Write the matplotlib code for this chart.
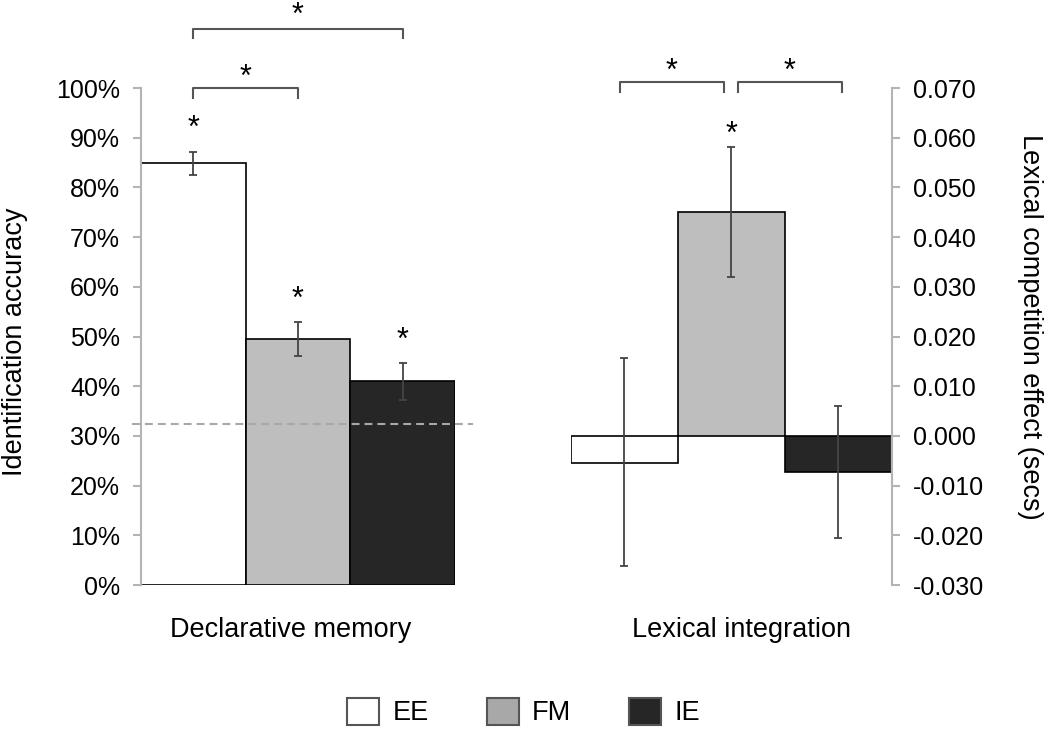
import numpy as np
import matplotlib
matplotlib.use("Agg")
import matplotlib.pyplot as plt
from matplotlib.patches import Patch

plt.rcParams["font.family"] = ["Liberation Sans", "DejaVu Sans"]

groups = ["EE", "FM", "IE"]
colors = ["#ffffff", "#bebebe", "#262626"]
legend_colors = ["#ffffff", "#a8a8a8", "#262626"]

# Declarative memory (identification accuracy)
acc = [0.849, 0.495, 0.410]
acc_err = [0.023, 0.034, 0.037]
chance = 0.325
acc_stars = ["*", "*", "*"]

# Lexical integration (lexical competition effect, secs)
lex = [-0.0055, 0.0450, -0.0072]
lex_lo = [-0.0261, 0.0319, -0.0206]
lex_hi = [0.0156, 0.0581, 0.0061]
lex_stars = ["", "*", ""]

pct_ticks = np.arange(0, 1.01, 0.1)
lex_ticks = np.arange(-0.03, 0.0701, 0.01)

fig = plt.figure(figsize=(10.5, 7.3), dpi=100)
x = np.arange(len(groups))
tick_fs = 18
lab_fs = 19.5
star_fs = 22
spine_col = "#b4b4b4"
err_col = "#444444"


def star(ax, xc, y, s, off):
    ax.annotate(s, xy=(xc, y), xytext=(0, off), textcoords="offset points",
                ha="center", va="baseline", fontsize=star_fs,
                annotation_clip=False)


def bracket(ax, x0, x1, y, drop, off):
    ax.plot([x0, x0, x1, x1], [y - drop, y, y, y - drop], color="#555555",
            lw=1.5, clip_on=False)
    star(ax, (x0 + x1) / 2, y, "*", off)


# ---------- left panel ----------
ax1 = fig.add_axes([0.1343, 0.1986, 0.299, 0.6808])
ax1.bar(x, acc, width=1.0, color=colors, edgecolor="black", linewidth=1.2)
ax1.errorbar(x, acc, yerr=acc_err, fmt="none", ecolor=err_col,
             elinewidth=1.3, capsize=3, capthick=1.3)
ax1.set_xlim(-0.5, 2.5)
ax1.set_ylim(0, 1.0)
ax1.set_yticks(pct_ticks)
ax1.set_yticklabels([f"{int(round(t * 100))}%" for t in pct_ticks],
                    fontsize=tick_fs)
ax1.set_xticks([])
for s in ["top", "right", "bottom"]:
    ax1.spines[s].set_visible(False)
ax1.spines["left"].set_color(spine_col)
ax1.spines["left"].set_linewidth(1.5)
ax1.tick_params(axis="y", color=spine_col, length=6, width=1.5, pad=9)
ax1.plot([-0.59, 2.67], [chance, chance], ls=(0, (3.8, 2.4)), color="#a8a8a8",
         lw=1.5, clip_on=False, zorder=3)
for i, s in enumerate(acc_stars):
    star(ax1, x[i], acc[i] + acc_err[i], s, 10.4)
ax1.set_ylabel("Identification accuracy", fontsize=lab_fs)
ax1.yaxis.label.set_va("center")
ax1.yaxis.set_label_coords(-0.40, 0.49)
ax1.set_xlabel("Declarative memory", fontsize=lab_fs)
ax1.xaxis.label.set_va("center")
ax1.xaxis.set_label_coords(0.478, -0.09)

bracket(ax1, 0, 1, 1.0, 0.02, 1.7)
bracket(ax1, 0, 2, 1.119, 0.018, 3.6)

# ---------- right panel ----------
ax2 = fig.add_axes([0.5438, 0.1986, 0.3057, 0.6808])
ax2.bar(x, lex, width=1.0, color=colors, edgecolor="black", linewidth=1.2)
lex_arr = np.array(lex)
yerr = [lex_arr - np.array(lex_lo), np.array(lex_hi) - lex_arr]
ax2.errorbar(x, lex, yerr=yerr, fmt="none", ecolor=err_col,
             elinewidth=1.3, capsize=3, capthick=1.3)
ax2.set_xlim(-0.5, 2.5)
ax2.set_ylim(-0.03, 0.07)
ax2.yaxis.tick_right()
ax2.yaxis.set_label_position("right")
ax2.set_yticks(lex_ticks)
ax2.set_yticklabels([f"{t:.3f}" if abs(t) > 1e-9 else "0.000" for t in lex_ticks],
                    fontsize=tick_fs)
ax2.set_xticks([])
for s in ["top", "left", "bottom"]:
    ax2.spines[s].set_visible(False)
ax2.spines["right"].set_color(spine_col)
ax2.spines["right"].set_linewidth(1.5)
ax2.tick_params(axis="y", color=spine_col, length=6, width=1.5, pad=9)
for i, s in enumerate(lex_stars):
    if s:
        star(ax2, x[i], lex_hi[i], s, 3.2)
ax2.set_ylabel("Lexical competition effect (secs)", fontsize=lab_fs,
               rotation=270)
ax2.yaxis.label.set_va("center")
ax2.yaxis.set_label_coords(1.43, 0.52)
ax2.set_xlabel("Lexical integration", fontsize=lab_fs)
ax2.xaxis.label.set_va("center")
ax2.xaxis.set_label_coords(0.53, -0.09)
bracket(ax2, -0.042, 0.93, 0.0712, 0.002, 1.7)
bracket(ax2, 1.06, 2.03, 0.0712, 0.002, 1.7)

# ---------- legend ----------
handles = [Patch(facecolor=c, edgecolor="#555555", linewidth=1.5)
           for c in legend_colors]
fig.legend(handles, groups, loc="center", bbox_to_anchor=(0.4986, 0.0247),
           ncol=3, frameon=False, fontsize=lab_fs, handlelength=1.18,
           handleheight=1.15, columnspacing=2.15, handletextpad=0.48)

fig.savefig("out.png", dpi=100)
